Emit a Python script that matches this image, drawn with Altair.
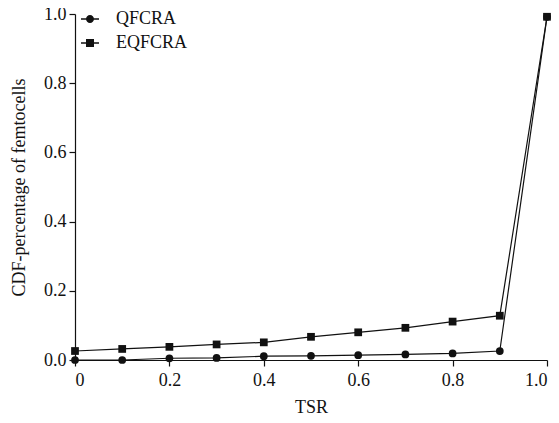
import altair as alt
import pandas as pd

tsr = [0.0, 0.1, 0.2, 0.3, 0.4, 0.5, 0.6, 0.7, 0.8, 0.9, 1.0]
qfcra = [0.0, 0.0, 0.005, 0.006, 0.011, 0.012, 0.014, 0.016, 0.019, 0.026, 0.992]
eqfcra = [0.026, 0.032, 0.038, 0.045, 0.051, 0.067, 0.080, 0.093, 0.111, 0.128, 0.992]
series = ["QFCRA", "EQFCRA"]
x_ticks = [0.0, 0.2, 0.4, 0.6, 0.8, 1.0]
y_ticks = [0.0, 0.2, 0.4, 0.6, 0.8, 1.0]

rows = []
for name, vals in zip(series, [qfcra, eqfcra]):
    for x, y in zip(tsr, vals):
        rows.append({"tsr": x, "cdf": y, "series": name})
df = pd.DataFrame(rows)

FONT = "Liberation Serif"
INK = "#111111"

x_enc = alt.X("tsr:Q", scale=alt.Scale(domain=[0, 1], nice=False, zero=False),
              axis=alt.Axis(values=x_ticks, title="TSR",
                            labelExpr="datum.value == 0 ? '0' : format(datum.value, '.1f')",
                            grid=False, tickSize=6, labelPadding=5, titlePadding=9))
y_enc = alt.Y("cdf:Q", scale=alt.Scale(domain=[0, 1], nice=False),
              axis=alt.Axis(values=y_ticks, title="CDF-percentage of femtocells", format=".1f",
                            grid=False, tickSize=6, labelPadding=3, titlePadding=15))

base = alt.Chart(df)

lines = base.mark_line(color=INK, strokeWidth=1.2).encode(
    x=x_enc, y=y_enc, detail="series:N")

points = base.mark_point(filled=True, color=INK, opacity=1, size=60).encode(
    x="tsr:Q", y="cdf:Q",
    shape=alt.Shape("series:N", scale=alt.Scale(domain=series, range=["circle", "square"]), legend=None))

# legend symbols: a short line (thin filled bar) with the marker on top
circle_path = "M-2.25,-0.2H2.25V0.2H-2.25ZM1,0A1,1,0,1,1,-1,0A1,1,0,1,1,1,0Z"
square_path = "M-2.25,-0.2H2.25V0.2H-2.25ZM-1,-1H1V1H-1Z"

legend_layer = base.transform_filter(alt.datum.tsr > 5).mark_point(
    filled=True, color=INK, size=64, opacity=1).encode(
    x="tsr:Q", y="cdf:Q",
    shape=alt.Shape("series:N", scale=alt.Scale(domain=series, range=[circle_path, square_path]),
                    legend=alt.Legend(title=None, orient="none", legendX=6, legendY=-4,
                                      symbolFillColor=INK, symbolOpacity=1, symbolSize=64,
                                      symbolStrokeWidth=0,
                                      labelFont=FONT, labelFontSize=18, labelColor=INK,
                                      labelOffset=17, rowPadding=6)))

chart = alt.layer(lines, points, legend_layer).resolve_scale(shape="independent").properties(
    width=472, height=346,
    autosize=alt.AutoSizeParams(type="none"),
    padding={"left": 67, "top": 6, "right": 4, "bottom": 55},
).configure_view(stroke=None).configure_axis(
    labelFont=FONT, titleFont=FONT, labelFontSize=18, titleFontSize=18,
    labelColor=INK, titleColor=INK, domainColor=INK, tickColor=INK,
    titleFontWeight="normal", domainWidth=1.2, tickWidth=1.2,
)

chart.save("out.html", embed_options={"renderer": "svg", "actions": False})
